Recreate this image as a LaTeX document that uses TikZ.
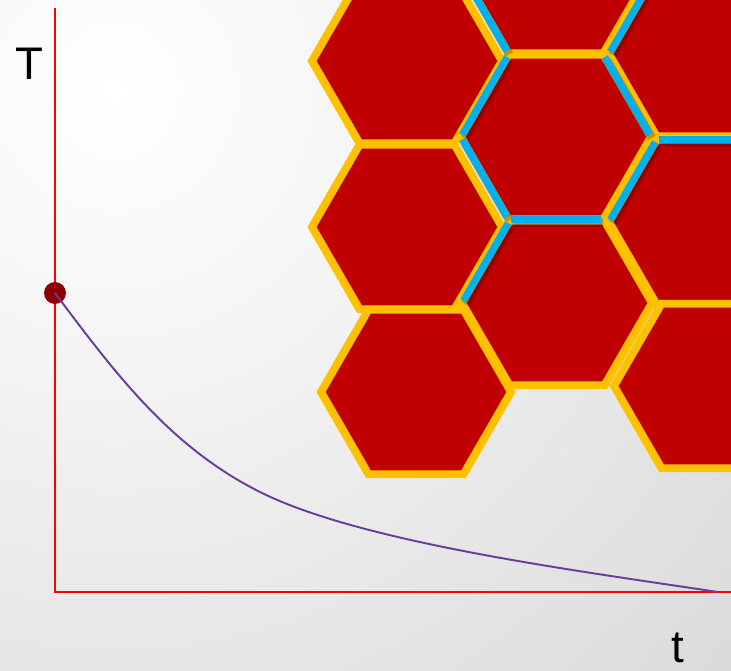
\documentclass[tikz,border=0pt]{standalone}
\usepackage{fontspec}
\setmainfont{Liberation Sans}
\usetikzlibrary{calc}
\definecolor{hexred}{HTML}{C00000}
\definecolor{hexgold}{HTML}{FFC000}
\definecolor{hexblue}{HTML}{00B0F0}
\definecolor{axisred}{HTML}{FF0000}
\definecolor{curvepurple}{HTML}{6A3D9A}
\definecolor{dotred}{HTML}{8E0000}
\definecolor{bgedge}{HTML}{B4B4B4}
\pgfdeclareradialshading{bgglow}{\pgfpoint{0bp}{0bp}}%
  {color(0bp)=(white); color(6bp)=(white!97!black); color(50bp)=(bgedge)}

\begin{document}
\begin{tikzpicture}[x=0.02cm, y=-0.02cm,
  hexcell/.style={fill=hexred, draw=hexgold, line width=4.5pt},
  glowedge/.style={draw=hexblue, line width=4pt,
    shorten <=1.5pt, shorten >=1.5pt},
  edgeshadow/.style={draw=black, line width=5pt, opacity=0.22,
    shorten <=1.5pt, shorten >=1.5pt,
    transform canvas={xshift=1.3pt, yshift=-1.9pt}},
  axis/.style={draw=axisred, line width=1.1pt},
  axislabel/.style={font=\fontsize{26}{30}\selectfont, inner sep=0pt,
    text depth=0pt, anchor=base}]
  \path[use as bounding box] (0,0) rectangle (731,671);
  \begin{scope}
    \clip (0,0) rectangle (731,671);
    % soft light in the upper left corner
    \shade[shading=bgglow] (115,90) circle (850);
    % honeycomb, one cell per centre
    \foreach \n/\cx/\cy in {A/407/61, B/407/227, C/416/392,
        D/556/-29, E/556/137, F/557/303,
        G/704/54, H/704/222, I/709/386} {
      \coordinate (\n) at (\cx,\cy);
      \foreach \a in {0,60,...,300}
        \coordinate (\n-\a) at ($(\n)+(\a:95)$);
      \draw[hexcell] (\n-0) -- (\n-60) -- (\n-120) -- (\n-180)
        -- (\n-240) -- (\n-300) -- cycle;
    }
    % highlighted grain boundaries
    \foreach \p/\q in {D-120/D-180, E-180/E-240, E-120/E-180,
        E-60/E-120, H-180/H-240, E-300/E-0, F-180/F-240,
        H-240/H-300, G-180/G-240}
      \draw[edgeshadow] (\p) -- (\q);
    \foreach \p/\q in {D-120/D-180, E-180/E-240, E-120/E-180,
        E-60/E-120, H-180/H-240, E-300/E-0, F-180/F-240,
        H-240/H-300, G-180/G-240}
      \draw[glowedge] (\p) -- (\q);
  \end{scope}
  % axes
  \coordinate (origin) at (55,592);
  \coordinate (ytop) at (55,8);
  \coordinate (xend) at (731,592);
  \draw[axis] (ytop) -- (origin) -- (xend);
  \node[axislabel] (ylab) at (29,80) {T};
  \node[axislabel] (xlab) at (678,663) {t};
  % cooling curve
  \node[circle, fill=dotred, inner sep=0pt, minimum size=12.5pt]
    (start) at (55,293) {};
  \coordinate (bend) at (260,492);
  \coordinate (finish) at (718,592);
  \draw[curvepurple, line width=1.1pt] (start.center)
    .. controls (115,373) and (170,447) .. (bend)
    .. controls (360,542) and (568,569.5) .. (finish);
\end{tikzpicture}
\end{document}
